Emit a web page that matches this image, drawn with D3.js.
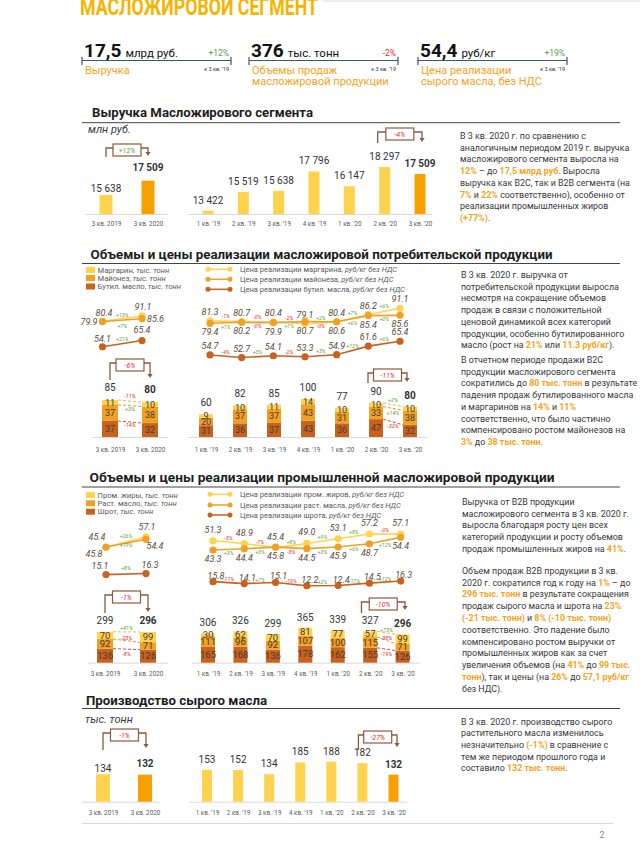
<!DOCTYPE html>
<html>
<head>
<meta charset="utf-8">
<script src="https://cdn.jsdelivr.net/npm/d3@7"></script>
<style>
body { margin: 0; background: #fff; }
svg { display: block; font-family: Roboto, "Noto Sans", sans-serif; }
</style>
</head>
<body>
<div id="page"></div>
<script>
// ---- data ----
var quarters = ["1 кв. '19", "2 кв. '19", "3 кв. '19", "4 кв. '19", "1 кв. '20", "2 кв. '20", "3 кв. '20"];
var yoyPeriods = ["3 кв. 2019", "3 кв. 2020"];

var kpiValues = ["17,5", "376", "54,4"];
var kpiUnits = ["млрд руб.", "тыс. тонн", "руб/кг"];
var kpiChanges = ["+12%", "-2%", "+19%"];
var kpiLabels = [["Выручка"], ["Объемы продаж", "масложировой продукции"], ["Цена реализации", "сырого масла, без НДС"]];
var kpiBase = "к 3 кв. '19";

var revenue = [13422, 15519, 15638, 17796, 16147, 18297, 17509];
var revenueChange = ["+12%", "-4%"];

// consumer products (тыс. тонн, руб/кг)
var margarineVol = [9, 10, 11, 14, 10, 10, 10];
var mayoVol = [20, 37, 37, 43, 31, 33, 38];
var butterVol = [31, 36, 37, 43, 36, 47, 32];
var consTotal = [60, 82, 85, 100, 77, 90, 80];
var margarineVolChg = ["-11%", "+2%"];
var mayoVolChg = ["+3%", "+14%"];
var butterVolChg = ["-14%", "-32%"];
var consChange = ["-6%", "-11%"];
var margarinePrice = [81.3, 80.7, 80.4, 79.1, 80.4, 86.2, 91.1];
var mayoPrice = [79.4, 80.2, 79.9, 80.7, 80.6, 85.4, 85.6];
var butterPrice = [54.7, 52.7, 54.1, 53.3, 54.9, 61.6, 65.4];
var margarinePriceChg = ["-1%", "-0%", "-2%", "+2%", "+7%", "+6%"];
var mayoPriceChg = ["+1%", "-0%", "+1%", "-0%", "+6%", "+0%"];
var butterPriceChg = ["-4%", "+3%", "-2%", "+3%", "+12%", "+6%"];
var consPriceYoY = ["+13%", "+7%", "+21%"];

// industrial products
var fatsVol = [30, 62, 70, 81, 77, 57, 99];
var oilVol = [111, 96, 92, 107, 100, 115, 71];
var mealVol = [165, 168, 136, 178, 162, 155, 126];
var indTotal = [306, 326, 299, 365, 339, 327, 296];
var fatsVolChg = ["+41%", "+73%"];
var oilVolChg = ["-23%", "-38%"];
var mealVolChg = ["-8%", "-19%"];
var indChange = ["-1%", "-10%"];
var fatsPrice = [51.3, 48.9, 45.4, 49.0, 53.1, 57.2, 57.1];
var oilPrice = [43.3, 44.4, 45.8, 44.5, 45.9, 48.7, 54.4];
var mealPrice = [15.8, 14.1, 15.1, 12.2, 12.4, 14.5, 16.3];
var fatsPriceChg = ["-5%", "-7%", "+8%", "+9%", "+8%", "-0%"];
var oilPriceChg = ["+3%", "+3%", "-3%", "+3%", "+6%", "+12%"];
var mealPriceChg = ["-11%", "+7%", "-19%", "+2%", "+17%", "+12%"];
var indPriceYoY = ["+26%", "+19%", "+8%"];

var crudeOil = [153, 152, 134, 185, 188, 182, 132];
var crudeChange = ["-1%", "-27%"];

var consLegend = ["Маргарин", "Майонез", "Бутил. масло"];
var consPriceLegend = ["Цена реализации маргарина", "Цена реализации майонеза", "Цена реализации бутил. масла"];
var indLegend = ["Пром. жиры", "Раст. масло", "Шрот"];
var indPriceLegend = ["Цена реализации пром. жиров", "Цена реализации раст. масла", "Цена реализации шрота"];

var text1 = ["В 3 кв. 2020 г. по сравнению с", "аналогичным периодом 2019 г. выручка", "масложирового сегмента выросла на",
  "[12%] – до [17,5 млрд руб]. Выросла", "выручка как B2C, так и B2B сегмента (на", "[7%] и [22%] соответственно), особенно от",
  "реализации промышленных жиров", "[(+77%)]."];
var text2a = ["В 3 кв. 2020 г. выручка от", "потребительской продукции выросла", "несмотря на сокращение объемов",
  "продаж в связи с положительной", "ценовой динамикой всех категорий", "продукции, особенно бутилированного",
  "масло (рост на [21%] или [11.3 руб/кг])."];
var text2b = ["В отчетном периоде продажи B2C", "продукции масложирового сегмента", "сократились до [80 тыс. тонн] в результате",
  "падения продаж бутилированного масла", "и маргаринов на [14%] и [11%]", "соответственно, что было частично",
  "компенсировано ростом майонезов на", "[3%] до [38 тыс. тонн]."];
var text3a = ["Выручка от B2B продукции", "масложирового сегмента в 3 кв. 2020 г.", "выросла благодаря росту цен всех",
  "категорий продукции и росту объемов", "продаж промышленных жиров на [41%]."];
var text3b = ["Объем продаж B2B продукции в 3 кв.", "2020 г. сократился год к году на [1%]  – до",
  "[296 тыс. тонн] в результате сокращения", "продаж сырого масла и шрота на [23%]", "[(-21 тыс. тонн)] и [8% (-10 тыс. тонн)]",
  "соответственно. Это падение было", "компенсировано ростом выручки от", "промышленных жиров как за счет",
  "увеличения объемов (на [41%] до [99 тыс.]", "[тонн]), так и цены (на [26%] до [57,1 руб/кг]", "без НДС)."];
var text4 = ["В 3 кв. 2020 г. производство сырого", "растительного масла изменилось", "незначительно [(-1%)] в сравнение с",
  "тем же периодом прошлого года и", "составило [132 тыс. тонн]."];

// ---- setup ----
var C = {
  yellow: "#FFD34E", orange: "#F7A000",
  l1: "#FFD34E", l2: "#F0A024", l3: "#C8621F",
  text: "#383838", hi: "#F5A31A", green: "#5E9E3F", red: "#E8292B",
  brown: "#8C5A3C", axis: "#D9D9D9", num: "#4a3a2c", lab: "#5a4a3c"
};
var fmtInt = d3.formatLocale({decimal: ",", thousands: " ", grouping: [3], currency: ["", ""]}).format(",d");
var fmt1 = d3.format(".1f");
function sign(t) { return t.charAt(0) == "-" ? C.red : C.green; }

var svg = d3.select("#page").append("svg").attr("width", 640).attr("height", 846);
svg.append("rect").attr("width", 640).attr("height", 846).attr("fill", "#fff");

// header
svg.append("line").attr("x1", 323).attr("x2", 640).attr("y1", 1).attr("y2", 1).attr("stroke", "#ddd");
svg.append("text").attr("x", 80).attr("y", 14.5).attr("font-size", 23).attr("font-weight", 700)
  .attr("fill", "#F6B400").attr("textLength", 238).attr("lengthAdjust", "spacingAndGlyphs")
  .text("МАСЛОЖИРОВОЙ СЕГМЕНТ");

// KPI blocks
var kpiLayout = [[82, 231], [249, 398], [418, 567]];
kpiValues.forEach(function(v, i) {
  var x0 = kpiLayout[i][0], x1 = kpiLayout[i][1];
  svg.append("path").attr("d", "M" + x0 + ",57V65M" + x0 + ",60.5H" + x1 + "M" + x1 + ",57V65")
    .attr("stroke", "#44546A").attr("stroke-width", 1.2).attr("fill", "none");
  var t = svg.append("text").attr("x", x0 + 2).attr("y", 57).attr("fill", "#111");
  t.append("tspan").attr("font-size", 19).attr("font-weight", 700).text(v);
  t.append("tspan").attr("dx", 4).attr("font-size", 11.5).text(kpiUnits[i]);
  svg.append("text").attr("x", x1 - 2).attr("y", 56).attr("text-anchor", "end").attr("font-size", 8.5)
    .attr("fill", sign(kpiChanges[i])).text(kpiChanges[i]);
  svg.append("text").attr("x", x1 - 2).attr("y", 71).attr("text-anchor", "end").attr("font-size", 5.5)
    .attr("fill", "#333").text(kpiBase);
  kpiLabels[i].forEach(function(l, j) {
    svg.append("text").attr("x", x0 + 3).attr("y", 73.5 + j * 11.2).attr("font-size", 11)
      .attr("fill", C.hi).text(l);
  });
});

// ---- helpers ----
function title(txt, x, y, ly, w) {
  svg.append("text").attr("x", x).attr("y", y).attr("font-size", 13).attr("font-weight", 700)
    .attr("fill", "#1e1e1e").attr("textLength", w).attr("lengthAdjust", "spacingAndGlyphs").text(txt);
  svg.append("line").attr("x1", 82).attr("x2", 620).attr("y1", ly).attr("y2", ly)
    .attr("stroke", "#444").attr("stroke-width", 1);
}

function para(x, y, lh, lines) {
  lines.forEach(function(ln, i) {
    var t = svg.append("text").attr("x", x).attr("y", y + i * lh).attr("font-size", 8.9).attr("fill", C.text);
    ln.split(/(\[[^\]]*\])/).forEach(function(p) {
      if (!p) return;
      if (p[0] == "[") t.append("tspan").attr("fill", C.hi).attr("font-weight", 700).text(p.slice(1, -1));
      else t.append("tspan").text(p);
    });
  });
}

function xAxis(x, y, ax, base) {
  svg.append("line").attr("x1", ax[0]).attr("x2", ax[1]).attr("y1", base + 0.5).attr("y2", base + 0.5)
    .attr("stroke", C.axis);
  var g = svg.append("g").attr("transform", "translate(0," + y + ")")
    .call(d3.axisBottom(x).tickSize(0).tickPadding(0));
  g.select(".domain").remove();
  g.attr("font-family", "Roboto");
  g.selectAll("text").attr("font-size", 6.3).attr("fill", "#595959");
}

function bars(o) {
  var x = d3.scalePoint().domain(o.cats).range(o.xr);
  var y = d3.scaleLinear().domain(o.yd).range(o.yr);
  var base = o.yr[0], n = o.vals.length;
  xAxis(x, o.ly, o.ax, base);
  svg.append("g").selectAll("rect").data(o.vals).enter().append("rect")
    .attr("x", function(d, i) { return x(o.cats[i]) - o.w / 2; })
    .attr("y", function(d) { return y(d); })
    .attr("width", o.w)
    .attr("height", function(d) { return base - y(d); })
    .attr("fill", function(d, i) { return i == n - 1 ? C.orange : C.yellow; });
  svg.append("g").selectAll("text").data(o.vals).enter().append("text")
    .attr("x", function(d, i) { return x(o.cats[i]); })
    .attr("y", function(d, i) { return y(d) - (o.gap[i] != null ? o.gap[i] : o.gap); })
    .attr("text-anchor", "middle").attr("font-size", 10).attr("fill", "#333")
    .attr("font-weight", function(d, i) { return i == n - 1 ? 700 : 400; })
    .text(o.fmt || fmtInt);
  return x;
}

function stacked(o) {
  var x = d3.scalePoint().domain(o.cats).range(o.xr);
  var y = d3.scaleLinear().domain([0, o.ymax]).range(o.yr);
  var base = o.yr[0], n = o.cats.length;
  xAxis(x, o.ly, o.ax, base);
  var rows = o.cats.map(function(c, i) {
    var r = {};
    o.layers.forEach(function(L, k) { r[k] = L.vals[i]; });
    return r;
  });
  var series = d3.stack().keys(o.layers.map(function(L, k) { return k; }))(rows);
  series.forEach(function(s, k) {
    var g = svg.append("g");
    g.selectAll("rect").data(s).enter().append("rect")
      .attr("x", function(d, i) { return x(o.cats[i]) - o.w / 2; })
      .attr("y", function(d) { return y(d[1]); })
      .attr("width", o.w)
      .attr("height", function(d) { return y(d[0]) - y(d[1]); })
      .attr("fill", o.layers[k].color);
  });
  series.forEach(function(s, k) {
    svg.append("g").selectAll("text").data(s).enter().append("text")
      .attr("x", function(d, i) { return x(o.cats[i]); })
      .attr("y", function(d) { return (y(d[0]) + y(d[1])) / 2 + 3.2; })
      .attr("text-anchor", "middle").attr("font-size", o.fs).attr("fill", C.num)
      .text(function(d, i) { return o.layers[k].vals[i]; });
  });
  var top = series[series.length - 1];
  svg.append("g").selectAll("text").data(o.totals).enter().append("text")
    .attr("x", function(d, i) { return x(o.cats[i]); })
    .attr("y", function(d, i) { return y(top[i][1]) - o.gap; })
    .attr("text-anchor", "middle").attr("font-size", 10).attr("fill", "#333")
    .attr("font-weight", function(d, i) { return i == n - 1 ? 700 : 400; })
    .text(function(d) { return d; });
  // dashed connectors between compared bars
  series.forEach(function(s, k) {
    var a = o.link[0], b = o.link[1];
    var x1 = x(o.cats[a]) + o.w / 2, y1 = y(s[a][1]), x2 = x(o.cats[b]) - o.w / 2, y2 = y(s[b][1]);
    svg.append("line").attr("x1", x1).attr("y1", y1).attr("x2", x2).attr("y2", y2)
      .attr("stroke", o.layers[k].dash).attr("stroke-width", 1).attr("stroke-dasharray", "3,2");
    var c = o.layers[k].chg;
    svg.append("text").attr("x", (x1 + x2) / 2).attr("y", (y1 + y2) / 2 + o.loff[k])
      .attr("text-anchor", "middle").attr("font-size", 5.5).attr("font-style", "italic")
      .attr("fill", sign(c)).text(c);
  });
  return x;
}

function bracket(xL, xR, yl, yLend, yRend, txt) {
  var cx = (xL + xR) / 2, bw = 28, bh = 12;
  svg.append("path")
    .attr("d", "M" + xL + "," + yLend + "V" + yl + "H" + (cx - bw / 2) + "M" + (cx + bw / 2) + "," + yl + "H" + xR + "V" + (yRend - 3))
    .attr("fill", "none").attr("stroke", C.brown).attr("stroke-width", 1.3);
  svg.append("path").attr("d", "M" + (xR - 2.6) + "," + (yRend - 4) + "L" + (xR + 2.6) + "," + (yRend - 4) + "L" + xR + "," + yRend + "Z")
    .attr("fill", C.brown);
  svg.append("rect").attr("x", cx - bw / 2).attr("y", yl - 4).attr("width", bw).attr("height", bh)
    .attr("fill", "#fff").attr("stroke", C.brown).attr("stroke-width", 1.2);
  svg.append("text").attr("x", cx).attr("y", yl + 4.5).attr("text-anchor", "middle").attr("font-size", 7)
    .attr("font-style", "italic").attr("fill", sign(txt)).text(txt);
}

function priceLines(o) {
  var x = d3.scalePoint().domain(o.cats).range(o.xr);
  var y = o.y;
  var line = d3.line().x(function(d, i) { return x(o.cats[i]); }).y(function(d) { return y(d); });
  o.series.forEach(function(s) {
    svg.append("path").datum(s.vals).attr("d", line).attr("fill", "none")
      .attr("stroke", s.color).attr("stroke-width", 1.6);
    svg.append("g").selectAll("circle").data(s.vals).enter().append("circle")
      .attr("cx", function(d, i) { return x(o.cats[i]); })
      .attr("cy", function(d) { return y(d); })
      .attr("r", 3.6).attr("fill", s.color);
  });
  o.series.forEach(function(s) {
    s.vals.forEach(function(v, i) {
      var off = s.lab ? s.lab[i] : [s.dx || 0, s.dy, "middle"];
      svg.append("text").attr("x", x(o.cats[i]) + off[0]).attr("y", y(v) + off[1])
        .attr("text-anchor", off[2]).attr("font-size", 9).attr("font-style", "italic")
        .attr("fill", C.lab).text(fmt1(v));
    });
    s.chg.forEach(function(c, i) {
      var xm = (x(o.cats[i]) + x(o.cats[i + 1])) / 2, ym = (y(s.vals[i]) + y(s.vals[i + 1])) / 2;
      svg.append("text").attr("x", xm).attr("y", ym + s.cdy).attr("text-anchor", "middle")
        .attr("font-size", 5.3).attr("font-style", "italic").attr("fill", sign(c)).text(c);
    });
  });
}

function legendBoxes(x, ys, names, colors) {
  names.forEach(function(nm, i) {
    svg.append("rect").attr("x", x).attr("y", ys[i] - 3).attr("width", 9).attr("height", 6).attr("fill", colors[i]);
    var t = svg.append("text").attr("x", x + 11.5).attr("y", ys[i] + 2.6).attr("font-size", 7.6).attr("fill", "#595959");
    t.append("tspan").text(nm + ", ");
    t.append("tspan").attr("font-style", "italic").text("тыс. тонн");
  });
}

function legendLines(x1, x2, tx, ys, names, colors) {
  names.forEach(function(nm, i) {
    svg.append("line").attr("x1", x1).attr("x2", x2).attr("y1", ys[i]).attr("y2", ys[i])
      .attr("stroke", colors[i]).attr("stroke-width", 1.5);
    [x1, x2].forEach(function(cx) {
      svg.append("circle").attr("cx", cx).attr("cy", ys[i]).attr("r", 2.5).attr("fill", colors[i]);
    });
    var t = svg.append("text").attr("x", tx).attr("y", ys[i] + 2.6).attr("font-size", 7.5).attr("fill", "#595959");
    t.append("tspan").text(nm + ", ");
    t.append("tspan").attr("font-style", "italic").text("руб/кг без НДС");
  });
}

function pick(a) { return [a[2], a[6]]; }

// ---- section 1: revenue ----
title("Выручка Масложирового сегмента", 92, 116.5, 122.7, 221);
svg.append("text").attr("x", 88).attr("y", 133).attr("font-size", 11).attr("font-style", "italic")
  .attr("fill", C.text).text("млн руб.");
bars({cats: yoyPeriods, vals: pick(revenue), xr: [106, 148], yd: [13150, 17509], yr: [214, 180.7],
  w: 13, gap: [3, 10], ax: [86, 168], ly: 221.5});
var x1r = bars({cats: quarters, vals: revenue, xr: [208, 420], yd: [13050, 18297], yr: [214, 167],
  w: 11, gap: 7, ax: [188, 432], ly: 221.5});
bracket(106, 148, 148, 157, 156, revenueChange[0]);
bracket(x1r(quarters[5]) - 7, x1r(quarters[6]) + 2, 132, 143, 142, revenueChange[1]);
para(460, 139, 11.7, text1);

// ---- section 2: consumer products ----
title("Объемы и цены реализации масложировой потребительской продукции", 90.5, 258.5, 263.5, 462);
legendBoxes(86, [270, 278, 286.5], consLegend, [C.l1, C.l2, C.l3]);
legendLines(208, 230, 240, [269.3, 279.3, 289.3], consPriceLegend, [C.l1, C.l2, C.l3]);
priceLines({cats: yoyPeriods, xr: [102.5, 142],
  y: d3.scaleLinear().domain([50, 70, 75, 95]).range([349, 338, 324, 314]),
  series: [
    {vals: pick(margarinePrice), color: C.l1, chg: [consPriceYoY[0]], cdy: -1.5, lab: [[1.5, -5, "middle"], [1, -6, "middle"]]},
    {vals: pick(mayoPrice), color: C.l2, chg: [consPriceYoY[1]], cdy: 8, lab: [[-5, 3, "end"], [5, 3, "start"]]},
    {vals: pick(butterPrice), color: C.l3, chg: [consPriceYoY[2]], cdy: -2.6, lab: [[0, -5, "middle"], [0, -8, "middle"]]}
  ]});
priceLines({cats: quarters, xr: [210, 400], y: d3.scaleLinear().domain([50, 95]).range([361, 303.3]),
  series: [
    {vals: margarinePrice, color: C.l1, chg: margarinePriceChg, dy: -6, cdy: -3.3},
    {vals: mayoPrice, color: C.l2, chg: mayoPriceChg, dy: 12, cdy: 6},
    {vals: butterPrice, color: C.l3, chg: butterPriceChg, dy: -6, cdy: -2.6}
  ]});
stacked({cats: yoyPeriods, xr: [110, 150], ymax: 85, yr: [437, 400], w: 16, gap: 9, fs: 9,
  ax: [92, 168], ly: 447.5, link: [0, 1], loff: [5, 5, -3], totals: pick(consTotal),
  layers: [
    {vals: pick(butterVol), color: C.l3, dash: "#D2522A", chg: butterVolChg[0]},
    {vals: pick(mayoVol), color: C.l2, dash: "#E8902A", chg: mayoVolChg[0]},
    {vals: pick(margarineVol), color: C.l1, dash: "#F2B43A", chg: margarineVolChg[0]}
  ]});
var x2r = stacked({cats: quarters, xr: [206, 410], ymax: 100, yr: [437, 399], w: 14, gap: 8, fs: 9,
  ax: [188, 427], ly: 447.5, link: [5, 6], loff: [6, 6, -3], totals: consTotal,
  layers: [
    {vals: butterVol, color: C.l3, dash: "#D2522A", chg: butterVolChg[1]},
    {vals: mayoVol, color: C.l2, dash: "#E8902A", chg: mayoVolChg[1]},
    {vals: margarineVol, color: C.l1, dash: "#F2B43A", chg: margarineVolChg[1]}
  ]});
bracket(110, 150, 363, 380, 378, consChange[0]);
bracket(x2r(quarters[5]) - 8, x2r(quarters[6]) - 3, 373, 383, 382, consChange[1]);
para(461, 278, 11.7, text2a);
para(461, 363, 11.7, text2b);

// ---- section 3: industrial products ----
title("Объемы и цены реализации промышленной масложировой продукции", 89.5, 481.5, 487, 465);
legendBoxes(86, [495, 503.3, 511.7], indLegend, [C.l1, C.l2, C.l3]);
legendLines(210, 230, 240, [494.3, 505, 515], indPriceLegend, [C.l1, C.l2, C.l3]);
priceLines({cats: yoyPeriods, xr: [106, 146], y: d3.scaleLinear().domain([10, 60]).range([579.2, 534.2]),
  series: [
    {vals: pick(fatsPrice), color: C.l1, chg: [indPriceYoY[0]], cdy: -4, lab: [[-9, -7, "middle"], [1, -7, "middle"]]},
    {vals: pick(oilPrice), color: C.l2, chg: [indPriceYoY[1]], cdy: 4, lab: [[-12, 10, "middle"], [9, 10, "middle"]]},
    {vals: pick(mealPrice), color: C.l3, chg: [indPriceYoY[2]], cdy: -4, lab: [[-6, -6, "middle"], [4, -6, "middle"]]}
  ]});
priceLines({cats: quarters, xr: [213, 400.7], y: d3.scaleLinear().domain([10, 60]).range([588.3, 530.8]),
  series: [
    {vals: fatsPrice, color: C.l1, chg: fatsPriceChg, dy: -8, cdy: -2},
    {vals: oilPrice, color: C.l2, chg: oilPriceChg, dy: 12, cdy: 6},
    {vals: mealPrice, color: C.l3, chg: mealPriceChg, dy: -3, dx: 3, cdy: -1.5}
  ]});
stacked({cats: yoyPeriods, xr: [105, 148], ymax: 299, yr: [662.7, 631.7], w: 16, gap: 8, fs: 9.5,
  ax: [88, 168], ly: 671.5, link: [0, 1], loff: [7, -1, -2], totals: pick(indTotal),
  layers: [
    {vals: pick(mealVol), color: C.l3, dash: "#D2522A", chg: mealVolChg[0]},
    {vals: pick(oilVol), color: C.l2, dash: "#E8902A", chg: oilVolChg[0]},
    {vals: pick(fatsVol), color: C.l1, dash: "#F2B43A", chg: fatsVolChg[0]}
  ]});
var x3r = stacked({cats: quarters, xr: [208, 402.6], ymax: 365, yr: [662.7, 627.7], w: 14, gap: 7, fs: 9.5,
  ax: [192, 420], ly: 671.5, link: [5, 6], loff: [7, 0, -1], totals: indTotal,
  layers: [
    {vals: mealVol, color: C.l3, dash: "#D2522A", chg: mealVolChg[1]},
    {vals: oilVol, color: C.l2, dash: "#E8902A", chg: oilVolChg[1]},
    {vals: fatsVol, color: C.l1, dash: "#F2B43A", chg: fatsVolChg[1]}
  ]});
bracket(105, 148, 595, 613, 612, indChange[0]);
bracket(x3r(quarters[5]) - 8.7, x3r(quarters[6]) + 2.4, 602, 613, 610, indChange[1]);
para(462, 504.7, 11.8, text3a);
para(462, 573.7, 11.8, text3b);

// ---- section 4: crude oil production ----
title("Производство сырого масла", 86, 705, 708.5, 181);
svg.append("text").attr("x", 85).attr("y", 723).attr("font-size", 11).attr("font-style", "italic")
  .attr("fill", C.text).text("тыс. тонн");
bars({cats: yoyPeriods, vals: pick(crudeOil), xr: [103, 145], yd: [15, 188], yr: [801.7, 761.7],
  w: 14, gap: [2, 8], ax: [82, 160], ly: 810.5, fmt: function(d) { return d; }});
var x4r = bars({cats: quarters, vals: crudeOil, xr: [207, 393.5], yd: [15, 188], yr: [801.7, 761.7],
  w: 10, gap: 7, ax: [190, 407], ly: 810.5, fmt: function(d) { return d; }});
bracket(103, 146, 733, 750, 748, crudeChange[0]);
bracket(x4r(quarters[5]) - 4, x4r(quarters[6]) + 3.5, 735, 750, 747, crudeChange[1]);
para(461, 724.7, 11.65, text4);

// footer
svg.append("line").attr("x1", 82).attr("x2", 613).attr("y1", 823.5).attr("y2", 823.5).attr("stroke", "#d9d9d9");
svg.append("text").attr("x", 602).attr("y", 838).attr("text-anchor", "middle").attr("font-size", 9)
  .attr("fill", "#888").text("2");
</script>
</body>
</html>
